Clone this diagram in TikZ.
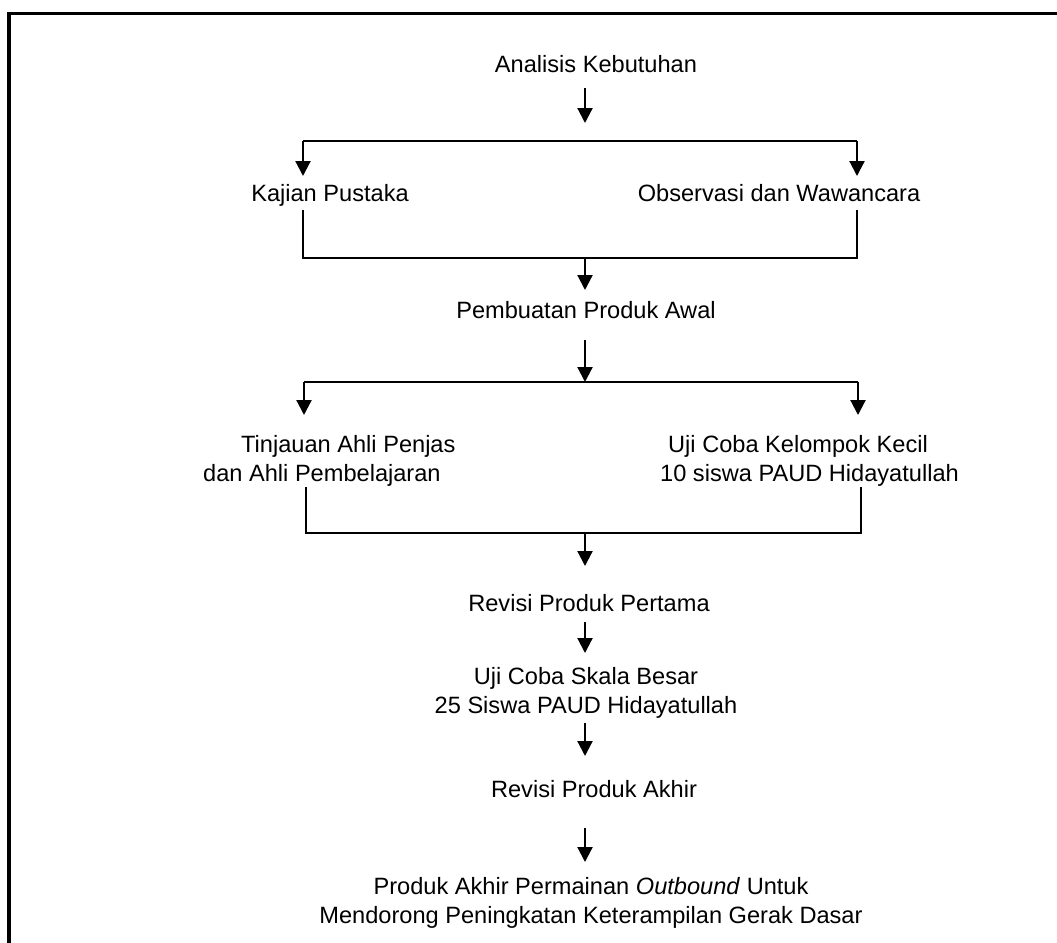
\documentclass[tikz,border=0pt]{standalone}
\usepackage{fontspec}
\setmainfont{Liberation Sans}
\usetikzlibrary{arrows.meta}
\begin{document}
\begin{tikzpicture}[x=1pt,y=-1pt,
  conn/.style={line width=2.2pt},
  arr/.style={conn,-{Triangle[length=15pt,width=15pt]}},
  lbl/.style={inner sep=0pt, anchor=base, font=\fontsize{23.6}{29}\selectfont},
  frame/.style={line width=3.8pt, line join=miter}]
\useasboundingbox (0,0) rectangle (1057,942);
\draw[frame] (9,950) -- (9,13.5) -- (1065,13.5);

% texts
\node[lbl] (a) at (596,72) {Analisis Kebutuhan};
\node[lbl] (k) at (330,201) {Kajian Pustaka};
\node[lbl] (o) at (779,201) {Observasi dan Wawancara};
\node[lbl] (p) at (586,318) {Pembuatan Produk Awal};
\node[lbl, anchor=base west] (t) at (203,452)
  {\begin{tabular}[t]{@{}l@{}}\hspace*{38pt}Tinjauan Ahli Penjas\\dan Ahli Pembelajaran\end{tabular}};
\node[lbl, anchor=base west] (u) at (660,452)
  {\begin{tabular}[t]{@{}l@{}}\hspace*{8pt}Uji Coba Kelompok Kecil\\10 siswa PAUD Hidayatullah\end{tabular}};
\node[lbl] (r1) at (589,611) {Revisi Produk Pertama};
\node[lbl] (s) at (586,684)
  {\begin{tabular}[t]{@{}c@{}}Uji Coba Skala Besar\\25 Siswa PAUD Hidayatullah\end{tabular}};
\node[lbl] (r2) at (594,797) {Revisi Produk Akhir};
\node[lbl] (f) at (591,894)
  {\begin{tabular}[t]{@{}c@{}}Produk Akhir Permainan \textit{Outbound} Untuk\\Mendorong Peningkatan Keterampilan Gerak Dasar\end{tabular}};

% junctions
\coordinate (b1) at (585,141);
\coordinate (b1l) at (303,141);
\coordinate (b1r) at (857,141);
\coordinate (m1) at (585,258);
\coordinate (m1l) at (303,258);
\coordinate (m1r) at (857,258);
\coordinate (b2) at (585,382);
\coordinate (b2l) at (304,382);
\coordinate (b2r) at (858,382);
\coordinate (m2) at (585,533);
\coordinate (m2l) at (306,533);
\coordinate (m2r) at (861,533);

% connectors
\draw[arr] ([yshift=-16pt]a.base -| b1) -- ([yshift=18pt]b1);
\draw[conn] (b1l) -- (b1r);
\draw[arr] (b1l) -- ([yshift=25pt]k.base -| b1l);
\draw[arr] (b1r) -- ([yshift=25pt]o.base -| b1r);
\draw[conn] ([yshift=-9pt]k.base -| m1l) -- (m1l) -- (m1r) -- ([yshift=-9pt]o.base -| m1r);
\draw[arr] (m1) -- ([yshift=28pt]p.base -| m1);
\draw[arr] ([yshift=-22pt]p.base -| b2) -- (b2);
\draw[conn] (b2l) -- (b2r);
\draw[arr] (b2l) -- ([yshift=37pt]t.base -| b2l);
\draw[arr] (b2r) -- ([yshift=37pt]u.base -| b2r);
\draw[conn] ([yshift=-35pt]t.base -| m2l) -- (m2l) -- (m2r) -- ([yshift=-35pt]u.base -| m2r);
\draw[arr] (m2) -- ([yshift=45pt]r1.base -| m2);
\draw[arr] ([yshift=-11pt]r1.base -| m2) -- ([yshift=31pt]s.base -| m2);
\draw[arr] ([yshift=-39pt]s.base -| m2) -- ([yshift=41pt]r2.base -| m2);
\draw[arr] ([yshift=-31pt]r2.base -| m2) -- ([yshift=32pt]f.base -| m2);
\end{tikzpicture}
\end{document}
